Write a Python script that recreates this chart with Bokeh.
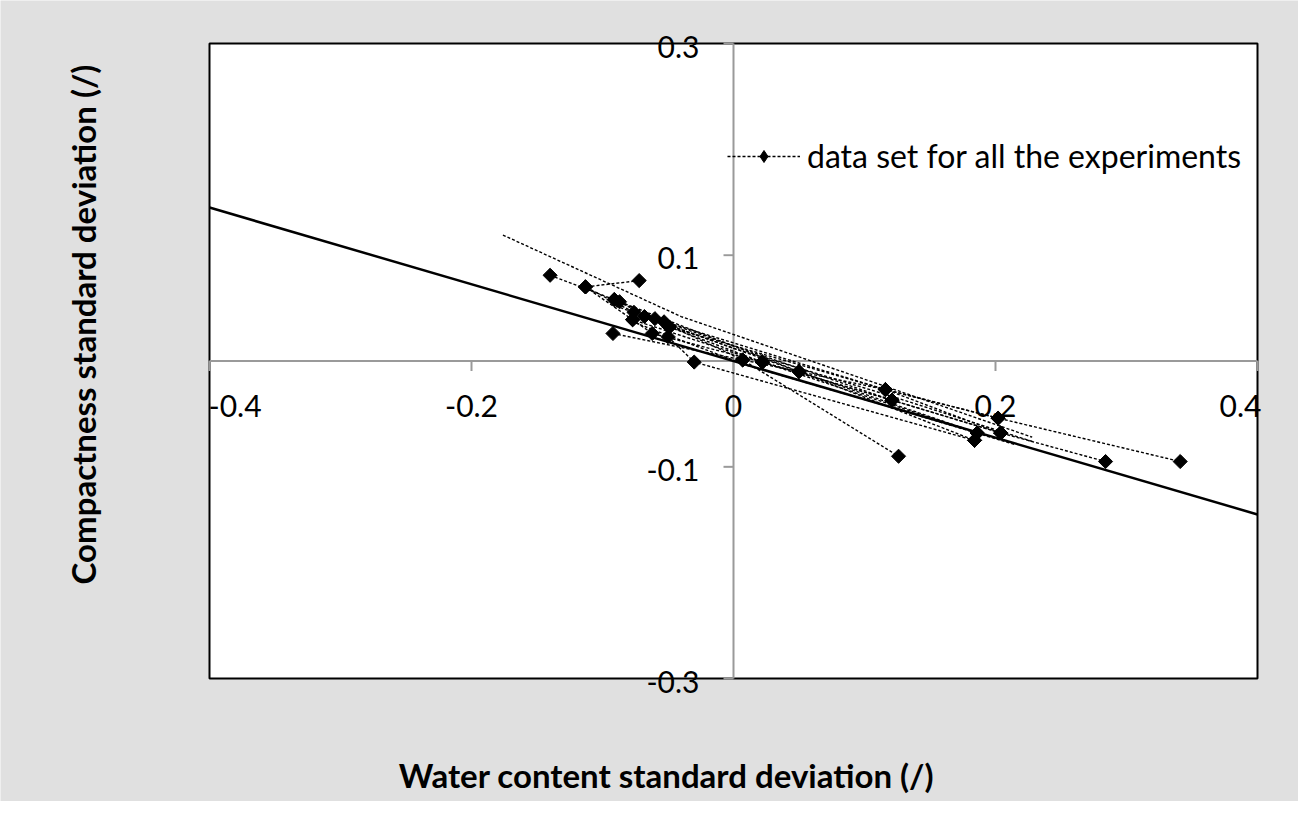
import numpy as np
from bokeh.plotting import figure
from bokeh.models import Legend, LegendItem, Range1d, Label
from bokeh.embed import file_html
from bokeh.resources import INLINE

# ---- data ----
s1_x = [-0.140, -0.091, 0.050, 0.184]
s1_y = [0.081, 0.058, -0.010, -0.075]
s2_x = [-0.072, -0.113, -0.076, 0.116, 0.202, 0.341]
s2_y = [0.076, 0.070, 0.046, -0.027, -0.054, -0.095]
s3_x = [-0.087, -0.053, 0.121, 0.204, 0.284]
s3_y = [0.056, 0.037, -0.037, -0.068, -0.095]
s4_x = [-0.077, -0.062, 0.022, 0.186]
s4_y = [0.039, 0.026, -0.001, -0.068]
s5_x = [-0.092, 0.007, 0.126]
s5_y = [0.026, 0.001, -0.090]
s6_x = [-0.050, -0.030, 0.184]
s6_y = [0.023, -0.001, -0.075]
s7_x = [-0.060, 0.007, 0.116, 0.204]
s7_y = [0.040, 0.001, -0.027, -0.068]
s8_x = [-0.049, 0.022, 0.121]
s8_y = [0.032, -0.001, -0.037]
s9_x = [-0.068, 0.050, 0.186]
s9_y = [0.042, -0.010, -0.068]
s10_x = [-0.091, -0.049, 0.116, 0.202]
s10_y = [0.058, 0.032, -0.027, -0.054]
s11_x = [-0.113, -0.077, 0.022, 0.121, 0.204]
s11_y = [0.070, 0.039, -0.001, -0.037, -0.068]
series = [(s1_x, s1_y), (s2_x, s2_y), (s3_x, s3_y), (s4_x, s4_y), (s5_x, s5_y),
          (s6_x, s6_y), (s7_x, s7_y), (s8_x, s8_y), (s9_x, s9_y), (s10_x, s10_y),
          (s11_x, s11_y)]

# dashed traces without markers
trace1_x = [-0.176, -0.040, 0.116, 0.228]
trace1_y = [0.119, 0.042, -0.024, -0.072]
trace2_x = [-0.090, 0.000, 0.120, 0.228]
trace2_y = [0.052, 0.012, -0.033, -0.076]
trace3_x = [-0.075, 0.010, 0.110, 0.215]
trace3_y = [0.036, -0.004, -0.040, -0.079]

# overall fitted line
fit_x = [-0.4, 0.4]
fit_y = [0.145, -0.145]

x_ticks = [-0.4, -0.2, 0, 0.2, 0.4]
x_tick_labels = ["-0.4", "-0.2", "0", "0.2", "0.4"]
y_ticks = [-0.3, -0.1, 0.1, 0.3]
y_tick_labels = ["-0.3", "-0.1", "0.1", "0.3"]
legend_label = "data set for all the experiments"
x_title = "Water content standard deviation (/)"
y_title = "Compactness standard deviation (/)"

FONT = "Lato"
BG = "#e0e0e0"
AXIS_GRAY = "#9a9a9a"

# ---- layout: the frame fills the whole canvas; the plot box sits at these pixels ----
W, H = 1298, 801
PX_L, PX_R, PY_T, PY_B = 209, 1257, 43, 678
x0, x1 = x_ticks[0], x_ticks[-1]
y0, y1 = y_ticks[0], y_ticks[-1]
ux = (x1 - x0) / (PX_R - PX_L)   # data units per pixel
uy = (y1 - y0) / (PY_B - PY_T)
xr = Range1d(x0 - PX_L * ux, x1 + (W - PX_R) * ux)
yr = Range1d(y0 - (H - PY_B) * uy, y1 + PY_T * uy)


def px_to_data(px, py):
    return xr.start + px * ux, yr.end - py * uy


p = figure(width=W, height=H, output_backend="svg", toolbar_location=None,
           x_range=xr, y_range=yr, x_axis_location=None, y_axis_location=None,
           min_border=0)
p.grid.visible = False
p.background_fill_color = BG
p.border_fill_color = BG
p.outline_line_color = None

# plot box
p.quad(left=x0, right=x1, bottom=y0, top=y1, fill_color="white",
       line_color="black", line_width=2)

# crossing axes through the origin, with outward ticks
p.segment(x0=[x0, 0], y0=[0, y0], x1=[x1, 0], y1=[0, y1],
          line_color=AXIS_GRAY, line_width=2)
p.segment(x0=x_ticks, y0=[0] * len(x_ticks), x1=x_ticks, y1=[-10 * uy] * len(x_ticks),
          line_color=AXIS_GRAY, line_width=2)
p.segment(x0=[0] * len(y_ticks), y0=y_ticks, x1=[-10 * ux] * len(y_ticks), y1=y_ticks,
          line_color=AXIS_GRAY, line_width=2)

lab_style = dict(text_font=FONT, text_font_size="30px", text_color="black",
                 text_baseline="middle")
for i, (t, s) in enumerate(zip(x_ticks, x_tick_labels)):
    if i == 0:
        align, dx = "left", -1
    elif i == len(x_ticks) - 1:
        align, dx = "right", 4
    else:
        align, dx = "center", 0
    p.add_layout(Label(x=t, y=0, text=s, text_align=align, x_offset=dx, y_offset=-45,
                       **lab_style))
for t, s in zip(y_ticks, y_tick_labels):
    p.add_layout(Label(x=0, y=t, text=s, text_align="right", x_offset=-34, y_offset=-3,
                       **lab_style))

# fitted line
p.line(fit_x, fit_y, line_color="black", line_width=2.5)

# traces without markers
for tx, ty in ((trace1_x, trace1_y), (trace2_x, trace2_y), (trace3_x, trace3_y)):
    p.line(tx, ty, line_color="black", line_width=1.4, line_dash="3 2")

first_line = None
for sx, sy in series:
    lr = p.line(sx, sy, line_color="black", line_width=1.4, line_dash="3 2")
    p.scatter(sx, sy, marker="square", angle=np.pi / 4, size=10,
              fill_color="black", line_color="black")
    if first_line is None:
        first_line = lr

# diamond glyph for the legend (sits inside the rotated squares of series 1)
legend_marker = p.scatter(s1_x, s1_y, marker="diamond", size=12,
                          fill_color="black", line_color="black")
legend = Legend(items=[LegendItem(label=legend_label, renderers=[first_line, legend_marker])],
                location=(727, 626), background_fill_alpha=0, border_line_alpha=0,
                label_text_font=FONT, label_text_font_size="32px", label_text_color="black",
                glyph_width=73, glyph_height=30, label_standoff=7, padding=0, margin=0)
p.add_layout(legend)

title_style = dict(text_font=FONT, text_font_style="bold", text_font_size="33px",
                   text_color="black", text_align="center", text_baseline="middle")
tx_, ty_ = px_to_data(666, 774)
p.add_layout(Label(x=tx_, y=ty_, text=x_title, **title_style))
tx_, ty_ = px_to_data(82, 324)
p.add_layout(Label(x=tx_, y=ty_, text=y_title, angle=np.pi / 2, **title_style))

open("out.html", "w").write(file_html(p, INLINE))
